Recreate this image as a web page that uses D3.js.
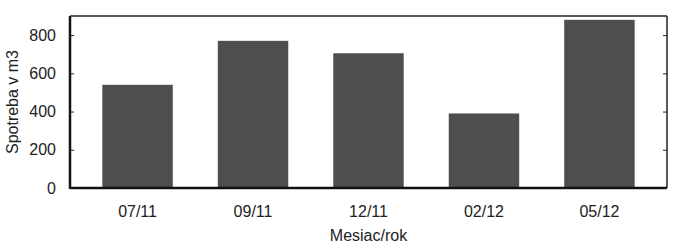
<!DOCTYPE html>
<html>
<head>
  <meta charset="UTF-8">
  <style>
    body {
      margin: 0;
      background: #ffffff;
      font-family: 'Liberation Sans', Arial, sans-serif;
    }
    .tick-label, .axis-title {
      fill: #222;
      font-size: 16px;
    }
  </style>
  <script src="https://d3js.org/d3.v7.min.js"></script>
</head>
<body>
<svg id="chart" width="677" height="249"></svg>
<script>
// Data
const months = ['07/11', '09/11', '12/11', '02/12', '05/12'];
const usage = [540, 770, 705, 390, 880];
const yTicks = [0, 200, 400, 600, 800];

const margin = {top: 16, right: 10, bottom: 61, left: 70};
const width = 677, height = 249;
const svg = d3.select('#chart');

const x = d3.scaleBand()
  .domain(months)
  .range([margin.left, width - margin.right])
  .paddingInner(0.39)
  .paddingOuter(0.28);

const y = d3.scaleLinear()
  .domain([0, 900])
  .range([height - margin.bottom, margin.top]);

// bars
svg.selectAll('rect.bar')
  .data(months)
  .enter().append('rect')
  .attr('class', 'bar')
  .attr('x', d => x(d))
  .attr('y', (d, i) => y(usage[i]))
  .attr('width', x.bandwidth())
  .attr('height', (d, i) => y(0) - y(usage[i]))
  .attr('fill', '#4e4e4e');

// frame: thin top/right, heavier left/bottom
const x0 = margin.left, x1 = width - margin.right;
const y0 = y(0), y1 = margin.top;
svg.append('line').attr('x1', x0).attr('x2', x1).attr('y1', y1).attr('y2', y1)
  .attr('stroke', '#222').attr('stroke-width', 1.5);
svg.append('line').attr('x1', x1).attr('x2', x1).attr('y1', y1).attr('y2', y0)
  .attr('stroke', '#222').attr('stroke-width', 1.5);
svg.append('line').attr('x1', x0).attr('x2', x0).attr('y1', y1).attr('y2', y0 + 1)
  .attr('stroke', '#111').attr('stroke-width', 2.5);
svg.append('line').attr('x1', x0).attr('x2', x1).attr('y1', y0).attr('y2', y0)
  .attr('stroke', '#111').attr('stroke-width', 2.5);

// left axis (labels + inward ticks)
const yAxis = d3.axisLeft(y).tickValues(yTicks).tickSize(-4).tickPadding(14);
const gy = svg.append('g').attr('transform', `translate(${x0},0)`).call(yAxis);
gy.select('.domain').remove();
gy.selectAll('line').attr('stroke', '#222');
gy.selectAll('text').attr('class', 'tick-label').style('font-size', '16px')
  .style('font-family', "'Liberation Sans', Arial, sans-serif");

// right axis ticks only
const gr = svg.append('g').attr('transform', `translate(${x1},0)`)
  .call(d3.axisRight(y).tickValues(yTicks).tickSize(-4).tickFormat(''));
gr.select('.domain').remove();
gr.selectAll('line').attr('stroke', '#222');

// bottom axis labels
const xAxis = d3.axisBottom(x).tickSize(0).tickPadding(18);
const gx = svg.append('g').attr('transform', `translate(0,${y0})`).call(xAxis);
gx.select('.domain').remove();
gx.selectAll('text').attr('class', 'tick-label').style('font-size', '16px')
  .style('font-family', "'Liberation Sans', Arial, sans-serif");

// axis titles
svg.append('text')
  .attr('class', 'axis-title')
  .attr('x', (x0 + x1) / 2)
  .attr('y', 241)
  .attr('text-anchor', 'middle')
  .text('Mesiac/rok');

svg.append('text')
  .attr('class', 'axis-title')
  .attr('transform', `translate(18,${(y0 + y1) / 2}) rotate(-90)`)
  .attr('text-anchor', 'middle')
  .text('Spotreba v m3');
</script>
</body>
</html>
